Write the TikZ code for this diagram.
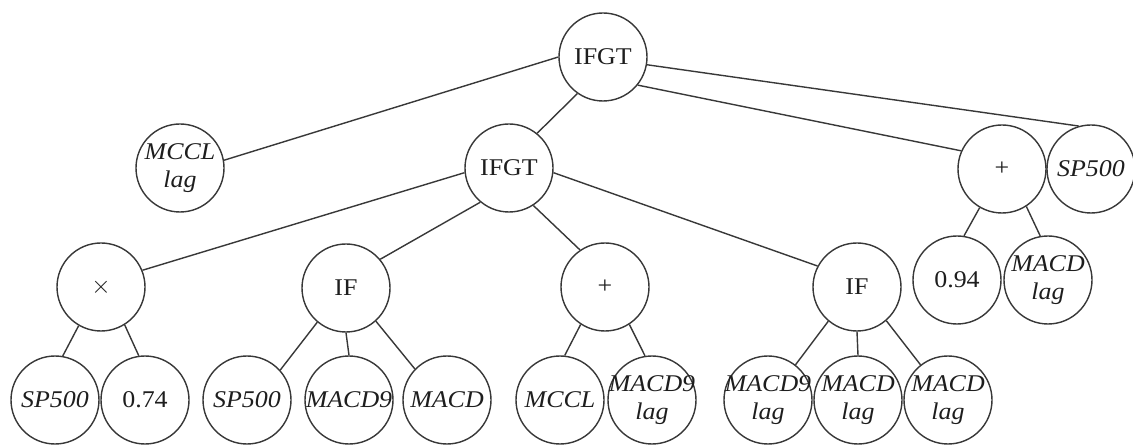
\documentclass[tikz,border=0pt]{standalone}
\usepackage{fontspec}
\setmainfont{Liberation Serif}[FakeStretch=1.08]
\definecolor{linegray}{HTML}{383838}
\definecolor{textgray}{HTML}{1E1E1E}
\begin{document}
\begin{tikzpicture}[x=1pt,y=-1pt,
  tnode/.style={circle, draw=linegray, line width=1.4pt, minimum size=88pt,
    inner sep=-8pt, text=textgray, align=center,
    font=\fontsize{24}{28}\selectfont},
  vnode/.style={tnode, font=\fontsize{24}{28}\selectfont\itshape},
  conn/.style={draw=linegray, line width=1.4pt}]
\useasboundingbox[fill=white] (0,0) rectangle (1133,446);

% level 0
\node[tnode] (top) at (603,57) {IFGT};
% level 1
\node[vnode] (mcclLag) at (180,168) {MCCL\\lag};
\node[tnode] (mid) at (509,168) {IFGT};
\node[tnode] (plusR) at (1002,169) {+};
\node[vnode] (spR) at (1091,169) {SP500};
% level 2
\node[tnode] (mul) at (101,287) {$\times$};
\node[tnode] (ifA) at (346,288) {IF};
\node[tnode] (plusA) at (605,287) {+};
\node[tnode] (ifB) at (857,287) {IF};
\node[tnode] (c094) at (957,280) {0.94};
\node[vnode] (macdLagR) at (1048,280) {MACD\\lag};
% leaves
\node[vnode] (lSP) at (55,400) {SP500};
\node[tnode] (l074) at (145,400) {0.74};
\node[vnode] (lSPb) at (247,400) {SP500};
\node[vnode] (lMACD9) at (349,400) {MACD9};
\node[vnode] (lMACD) at (447,400) {MACD};
\node[vnode] (lMCCL) at (560,400) {MCCL};
\node[vnode] (lM9lagA) at (652,400) {MACD9\\lag};
\node[vnode] (lM9lagB) at (768,400) {MACD9\\lag};
\node[vnode] (lMlagA) at (858,400) {MACD\\lag};
\node[vnode] (lMlagB) at (948,400) {MACD\\lag};

% edges from the root
\draw[conn] (top.180) -- (mcclLag.10);
\draw[conn] (top.235) -- (mid.51);
\draw[conn] (top.-39) -- (plusR.156);
\draw[conn] (top.-10) -- (spR.106);
% edges from the inner IFGT
\draw[conn] (mid.186) -- (mul.22);
\draw[conn] (mid.230) -- (ifA.40);
\draw[conn] (mid.-57) -- (plusA.124);
\draw[conn] (mid.-6) -- (ifB.152);
% operator children
\draw[conn] (mul.240) -- (lSP.80);
\draw[conn] (mul.-58) -- (l074.98);
\draw[conn] (ifA.230) -- (lSPb.42);
\draw[conn] (ifA.south) -- (lMACD9.north);
\draw[conn] (ifA.-48) -- (lMACD.136);
\draw[conn] (plusA.237) -- (lMCCL.84);
\draw[conn] (plusA.-57) -- (lM9lagA.99);
\draw[conn] (ifB.230) -- (lM9lagB.52);
\draw[conn] (ifB.south) -- (lMlagA.north);
\draw[conn] (ifB.-49) -- (lMlagB.128);
\draw[conn] (plusR.240) -- (c094.81);
\draw[conn] (plusR.-57) -- (macdLagR.100);
\end{tikzpicture}
\end{document}
